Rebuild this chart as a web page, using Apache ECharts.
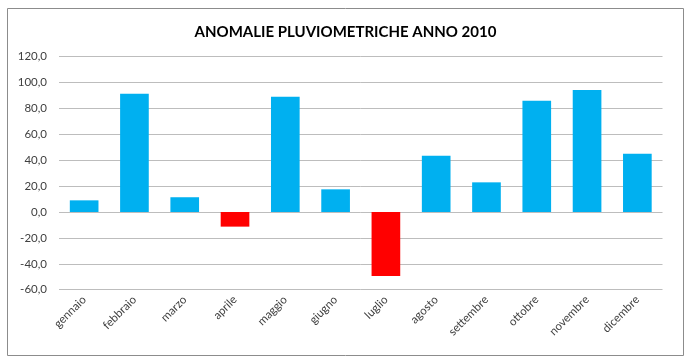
<!DOCTYPE html>
<html><head><meta charset="utf-8">
<script src="https://cdn.jsdelivr.net/npm/echarts@6/dist/echarts.min.js"></script>
<style>html,body{margin:0;padding:0;background:#fff}#c{width:691px;height:364px}</style>
</head><body><div id="c"></div>
<script>
const months = ['gennaio','febbraio','marzo','aprile','maggio','giugno','luglio','agosto','settembre','ottobre','novembre','dicembre'];
const anomalies = [9.0, 91.3, 11.4, -11.3, 89.0, 17.5, -49.4, 43.5, 22.9, 86.0, 94.2, 45.0];
const yTicks = {min: -60, max: 120, interval: 20};
const titleText = 'ANOMALIE PLUVIOMETRICHE ANNO 2010';

const chart = echarts.init(document.getElementById('c'), null, {renderer: 'canvas'});
chart.setOption({
  animation: false,
  backgroundColor: '#fff',
  title: {
    text: titleText, left: 'center', top: 20,
    textStyle: {fontFamily: 'Lato', fontWeight: 'bold', fontSize: 15, color: '#000'}
  },
  graphic: [{
    type: 'rect', shape: {x: 7.5, y: 8.5, width: 676, height: 347},
    style: {fill: 'none', stroke: '#8c8c8c', lineWidth: 1}, z: -1
  }],
  grid: {left: 59, right: 28.5, top: 56.6, bottom: 74.3, containLabel: false, outerBoundsMode: 'none'},
  xAxis: {
    type: 'category', data: months,
    axisLine: {show: false}, axisTick: {show: false},
    axisLabel: {rotate: 45, interval: 0, fontFamily: 'Lato', fontSize: 11.5, color: '#404040', margin: 8}
  },
  yAxis: {
    type: 'value', min: yTicks.min, max: yTicks.max, interval: yTicks.interval,
    axisLine: {show: false}, axisTick: {show: false},
    splitLine: {lineStyle: {color: '#bdbdbd', width: 1}},
    axisLabel: {fontFamily: 'Lato', fontSize: 11.5, color: '#404040', margin: 12,
      formatter: v => v.toFixed(1).replace('.', ',')}
  },
  series: [{
    type: 'bar', barWidth: '57%',
    data: anomalies.map(v => ({value: v, itemStyle: {color: v < 0 ? '#ff0000' : '#00b0f0'}})),
    itemStyle: {borderWidth: 0}
  }]
});
</script></body></html>
